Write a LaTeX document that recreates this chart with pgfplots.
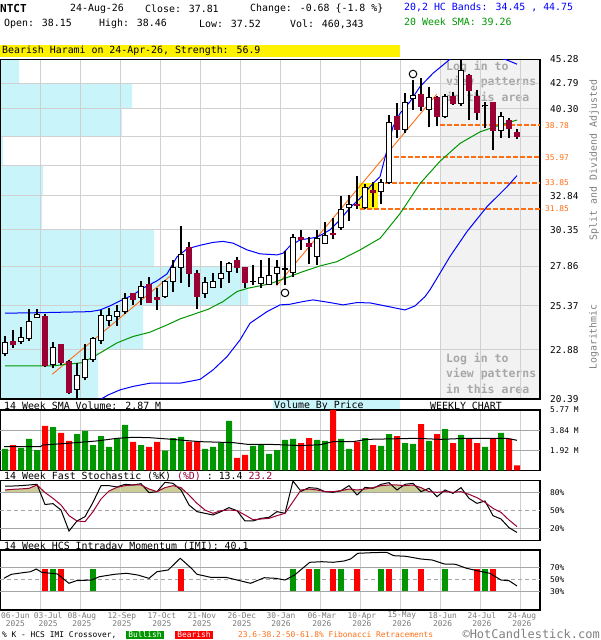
\documentclass[border=0pt]{standalone}
\usepackage{pgfplots}
\pgfplotsset{compat=1.18}
\usepackage{fontspec}
\setmainfont{DejaVu Sans Mono}
\definecolor{bear}{RGB}{153,0,51}
\definecolor{volg}{RGB}{0,150,0}
\definecolor{volr}{RGB}{255,0,0}
\definecolor{bandc}{RGB}{0,0,255}
\definecolor{smac}{RGB}{0,150,0}
\definecolor{fibc}{RGB}{255,110,20}
\definecolor{vbp}{RGB}{200,244,250}
\definecolor{shade}{RGB}{242,242,242}
\definecolor{gridc}{RGB}{208,208,208}
\definecolor{gridd}{RGB}{165,165,165}
\definecolor{khaki}{RGB}{204,204,153}
\definecolor{logtxt}{RGB}{168,168,168}
\definecolor{datec}{RGB}{120,120,120}
\newcommand\hf{\fontsize{9.9}{11}\selectfont}
\newcommand\ylab{\fontsize{9.4}{10}\selectfont}
\newcommand\smallf{\fontsize{7.9}{8.5}\selectfont}
\newcommand\logf{\fontsize{11.5}{13}\selectfont\bfseries}
\newcommand\cdl[5]{%
  \pgfmathsetmacro\xa{#1-0.33}\pgfmathsetmacro\xb{#1+0.33}%
  \ifdim #5pt<#2pt \def\bfill{bear}\def\bdraw{bear}\else\def\bfill{white}\def\bdraw{black}\fi
  \edef\next{\noexpand\addplot[black,line width=1.2pt,forget plot] coordinates {(#1,#4) (#1,#3)};%
  \noexpand\addplot[fill=\bfill,draw=\bdraw,line width=1pt,forget plot] coordinates {(\xa,#2) (\xb,#2) (\xb,#5) (\xa,#5) (\xa,#2)};}%
  \next}
\newcommand\imibar[2]{\addplot[#2,line width=6pt,forget plot] coordinates {(#1,32) (#1,68)};}
\newcommand\hgl[2]{\addplot[gridd,line width=1pt,#2,forget plot] coordinates {(-0.625,#1) (66.875,#1)};}
\newcommand\fibl[2]{\addplot[fibc,line width=1.5pt,dash pattern=on 4.5pt off 2.5pt,forget plot] coordinates {(#1,#2) (66.875,#2)};}
\pgfplotsset{
  panel/.style={scale only axis, width=540pt, xmin=-0.625, xmax=66.875,
    axis line style={line width=1.2pt}, major tick length=0pt,
    xtick={4.4,9.4,...,64.4}, xticklabels={}, xmajorgrids, x grid style={gridc,line width=1pt},
    yticklabel pos=right, yticklabel style={anchor=west,inner sep=0pt,xshift=10pt,font=\smallf},
    clip=true},
}
\begin{document}
\begin{tikzpicture}
\useasboundingbox (0pt,0pt) rectangle (600pt,640pt);
\begin{scope}[x=1pt,y=1pt]
\node[anchor=west,inner sep=0,font=\fontsize{11}{12}\selectfont\bfseries] at (0,631) {NTCT};
\node[anchor=west,inner sep=0,font=\hf] at (70,631) {24-Aug-26};
\node[anchor=west,inner sep=0,font=\hf] at (145,631) {Close: 37.81};
\node[anchor=west,inner sep=0,font=\hf] at (250,631) {Change: -0.68 \{-1.8 \%\}};
\node[anchor=west,inner sep=0,font=\hf] at (4,616) {Open: 38.15};
\node[anchor=west,inner sep=0,font=\hf] at (99,616) {High: 38.46};
\node[anchor=west,inner sep=0,font=\hf] at (199,616) {Low: 37.52};
\node[anchor=west,inner sep=0,font=\hf] at (290,616) {Vol: 460,343};
\node[anchor=west,inner sep=0,font=\hf,text=bandc] at (404,633) {20,2 HC Bands: 34.45 , 44.75};
\node[anchor=west,inner sep=0,font=\hf,text=smac] at (404,618) {20 Week SMA: 39.26};
\fill[yellow] (0,583) rectangle (400,595);
\node[anchor=west,inner sep=0,font=\hf] at (2,589) {Bearish Harami on 24-Apr-26, Strength: 56.9};
\end{scope}
% ---------- background of price panel ----------
\begin{axis}[at={(0pt,241pt)}, anchor=south west, scale only axis, width=540pt, height=339.8pt,
  xmin=0, xmax=540, ymin=20.39, ymax=45.28, ymode=log, hide axis]
\addplot[fill=vbp, draw=none] coordinates {
(0,20.39) (98,20.39) (98,22.88) (143,22.88) (143,25.37) (248,25.37) (248,27.86) (154,27.86)
(154,30.35) (42,30.35) (42,32.84) (43,32.84) (43,35.32) (3,35.32) (3,37.81) (122,37.81)
(122,40.30) (132,40.30) (132,42.79) (19,42.79) (19,45.28) (0,45.28)};
\addplot[fill=shade, draw=none] coordinates {(440,20.39) (540,20.39) (540,45.28) (440,45.28)};
\addplot[draw=gray, line width=1pt] coordinates {(440,20.39) (440,45.28)};
\end{axis}
\begin{scope}[x=1pt,y=1pt]
\foreach \yy/\tt in {573/{Log in to},558/{view patterns},543/{in this area},281/{Log in to},266/{view patterns},251/{in this area}}
  \node[anchor=west,inner sep=0,font=\logf,text=logtxt] at (446,\yy) {\tt};
\end{scope}
% ---------- price panel ----------
\begin{axis}[panel, at={(0pt,241pt)}, anchor=south west, height=339.8pt,
  ymode=log, ymin=20.39, ymax=45.28, ymajorgrids, y grid style={gridc,line width=1pt},
  ytick={20.39,22.88,25.37,27.86,30.35,32.84,35.32,37.81,40.30,42.79,45.28},
  yticklabels={20.39,22.88,25.37,27.86,30.35,32.84,,,40.30,42.79,45.28},
  yticklabel style={font=\ylab},
  extra y ticks={31.85,33.85,35.97,38.78},
  extra y tick labels={31.85,33.85,35.97,38.78},
  extra y tick style={grid=none, yticklabel style={text=fibc,font=\smallf,xshift=-5pt}}]
\addplot[fill=yellow, draw=none, forget plot] coordinates {(44.25,31.82) (46.6,31.82) (46.6,33.87) (44.25,33.87)};
\fibl{54.4}{38.78}\fibl{47.75}{35.97}\fibl{47.5}{33.85}\fibl{44.4}{31.85}
\addplot[fibc, line width=0.9pt] coordinates {(5.91,21.61) (20.96,27.34)};
\addplot[fibc, line width=0.9pt] coordinates {(33.96,26.61) (53.96,41.70)};
\addplot[smac, line width=1pt] coordinates {
(0,22.04) (6,22.04) (9.75,22.21) (11.9,22.72) (14,23.26) (16,23.61) (18.1,23.85) (20.25,24.26)
(21.9,24.61) (25.4,25.17) (27.25,25.63) (29,26.24) (30.4,26.45) (33.1,26.72) (34.75,27.02)
(37.25,27.50) (39.4,27.87) (41.5,28.15) (44.4,28.94) (46.9,29.74) (49.4,31.53) (51.9,33.83)
(54.4,35.65) (56.9,37.17) (59.4,38.19) (61.9,38.80) (64,39.26)};
\addplot[bandc, line width=1pt] coordinates {
(0,24.94) (4.375,24.97) (10.625,25.03) (11.875,25.13) (13.125,25.37) (14.375,25.67) (16,26.03)
(17.25,26.45) (19,26.91) (20.25,27.35) (21.5,28.47) (22.75,29.01) (24.375,29.25) (26,29.45)
(27.25,29.52) (28.5,29.40) (30.25,28.94) (31.875,28.67) (34,28.60) (34.75,28.71) (35.625,29.21)
(36.875,29.62) (39,29.81) (40.625,30.33) (41.875,31.05) (43.125,31.95) (44.375,32.66) (46,33.83)
(46.875,34.36) (47.75,36.59) (48.5,38.64) (49.375,39.87) (50.625,40.98) (51.875,42.45) (53.5,43.81)
(55.25,45.01) (56.5,45.91) (58.125,46.16) (60.25,45.84) (62.75,45.19) (64,44.75)};
\addplot[bandc, line width=1pt] coordinates {
(11.4,20.25) (12.875,20.58) (14.375,20.83) (16,21.00) (18.125,21.16) (21.875,21.16) (24.375,21.35)
(26,21.83) (27.75,22.52) (29.375,23.42) (30.625,24.36) (32.75,25.03) (34.375,25.43) (35.625,25.47)
(37.25,25.63) (38.5,25.73) (40.625,25.57) (42.25,25.43) (44,25.57) (45.625,25.55) (48.125,25.31)
(50,25.13) (51.25,25.37) (52.5,25.93) (53.125,26.35) (55.625,28.49) (57.75,30.21) (60.25,32.03)
(62.75,33.56) (64,34.45)};
\cdl{0}{22.70}{23.64}{22.58}{23.30}
\cdl{1}{23.31}{23.98}{23.00}{23.17}
\cdl{2}{23.33}{24.17}{23.22}{23.57}
\cdl{3}{23.50}{25.17}{23.38}{24.47}
\cdl{4}{24.71}{25.17}{24.65}{24.84}
\cdl{5}{24.72}{24.92}{21.97}{22.07}
\cdl{6}{22.12}{23.30}{21.92}{23.03}
\cdl{7}{23.15}{23.19}{22.09}{22.21}
\cdl{8}{22.24}{22.33}{20.65}{20.69}
\cdl{9}{20.86}{22.19}{20.39}{21.56}
\cdl{10}{21.44}{23.20}{21.32}{22.39}
\cdl{11}{22.36}{23.57}{22.26}{23.48}
\cdl{12}{23.38}{25.13}{23.22}{24.82}
\cdl{13}{24.53}{25.23}{24.22}{24.82}
\cdl{14}{24.76}{25.41}{24.21}{25.06}
\cdl{15}{25.06}{26.16}{24.92}{25.79}
\cdl{16}{26.14}{26.17}{25.43}{25.73}
\cdl{17}{25.87}{26.91}{25.43}{26.53}
\cdl{18}{26.70}{27.16}{25.55}{25.59}
\cdl{19}{25.85}{26.49}{25.13}{25.77}
\cdl{20}{25.93}{26.95}{25.87}{26.85}
\cdl{21}{26.88}{28.27}{26.22}{27.79}
\cdl{22}{27.76}{30.61}{26.80}{28.65}
\cdl{23}{29.12}{29.49}{26.51}{27.37}
\cdl{24}{27.40}{27.61}{25.21}{25.93}
\cdl{25}{26.14}{27.14}{25.83}{26.83}
\cdl{26}{26.51}{27.40}{26.43}{26.89}
\cdl{27}{27.08}{28.20}{26.45}{27.40}
\cdl{28}{27.53}{28.14}{26.76}{28.05}
\cdl{29}{28.20}{28.45}{27.44}{27.76}
\cdl{30}{27.76}{27.81}{26.47}{26.80}
\cdl{31}{26.86}{27.96}{26.66}{26.88}
\cdl{32}{26.74}{28.25}{26.45}{27.14}
\cdl{33}{26.70}{28.40}{26.64}{27.27}
\cdl{34}{27.40}{28.27}{26.66}{27.76}
\cdl{35}{27.66}{28.84}{26.63}{27.70}
\cdl{36}{27.42}{30.01}{27.16}{29.76}
\cdl{37}{29.79}{30.33}{28.94}{29.62}
\cdl{38}{29.35}{29.81}{28.00}{29.16}
\cdl{39}{28.49}{30.33}{27.94}{29.74}
\cdl{40}{29.40}{30.93}{29.35}{29.93}
\cdl{41}{30.07}{31.17}{29.69}{29.97}
\cdl{42}{30.49}{32.84}{30.33}{31.83}
\cdl{43}{31.98}{32.92}{30.99}{32.18}
\cdl{44}{32.21}{34.42}{31.83}{32.10}
\cdl{45}{31.98}{33.78}{31.83}{33.52}
\cdl{46}{33.25}{33.96}{32.03}{33.15}
\cdl{47}{33.21}{34.15}{32.23}{33.88}
\cdl{48}{33.88}{39.72}{33.80}{39.07}
\cdl{49}{39.56}{40.82}{37.61}{38.41}
\cdl{50}{38.41}{41.79}{38.10}{40.92}
\cdl{51}{41.31}{43.12}{40.19}{41.56}
\cdl{52}{41.72}{43.30}{40.09}{40.50}
\cdl{53}{40.25}{42.45}{38.59}{41.40}
\cdl{54}{41.40}{41.58}{38.75}{39.56}
\cdl{55}{39.56}{41.75}{39.41}{41.50}
\cdl{56}{41.50}{41.89}{40.66}{40.79}
\cdl{57}{40.79}{45.20}{40.59}{44.12}
\cdl{58}{43.63}{43.70}{39.23}{42.09}
\cdl{59}{41.50}{42.12}{39.25}{39.97}
\cdl{60}{40.57}{40.98}{38.50}{40.61}
\cdl{61}{40.92}{40.98}{36.56}{38.26}
\cdl{62}{38.26}{40.03}{37.66}{39.60}
\cdl{63}{39.19}{39.47}{37.61}{38.49}
\cdl{64}{38.15}{38.46}{37.52}{37.81}
\addplot[only marks, mark=o, mark size=3.8pt, mark options={line width=1pt, black}] coordinates {(35,26.16) (51,43.73)};
\end{axis}
\begin{scope}[x=1pt,y=1pt]
\node[rotate=90,inner sep=0,font=\hf,text=gray] at (594,480) {Split and Dividend Adjusted};
\node[rotate=90,inner sep=0,font=\hf,text=gray] at (594,303) {Logarithmic};
\node[anchor=west,inner sep=0,font=\hf] at (4,234.5) {14 Week SMA Volume: 2.87 M};
\fill[vbp] (273,230) rectangle (400,240);
\node[anchor=west,inner sep=0,font=\hf] at (274,234.5) {Volume By Price};
\node[anchor=west,inner sep=0,font=\hf] at (430,234.5) {WEEKLY CHART};
\node[anchor=west,inner sep=0,font=\hf] at (4,164) {14 Week Fast Stochastic (\%K) \textcolor{bear}{(\%D)} : 13.4 \textcolor{bear}{23.2}};
\node[anchor=west,inner sep=0,font=\hf] at (4,93.5) {14 Week HCS Intraday Momentum (IMI): 40.1};
\node[anchor=west,inner sep=0,font=\smallf] at (2,5) {\% K - HCS IMI Crossover,};
\fill[volg] (126,0.5) rectangle (164,9);
\node[inner sep=0,font=\smallf,text=white] at (145,5) {Bullish};
\fill[volr] (175,0.5) rectangle (213,9);
\node[inner sep=0,font=\smallf,text=white] at (194,5) {Bearish};
\node[anchor=west,inner sep=0,font=\smallf,text=fibc] at (238,5) {23.6-38.2-50-61.8\% Fibonacci Retracements};
\node[anchor=east,inner sep=0,font=\fontsize{12}{13}\selectfont,text=gray] at (600,6.5) {©HotCandlestick.com};
\end{scope}
% ---------- volume panel ----------
\begin{axis}[panel, at={(0pt,169.7pt)}, anchor=south west, height=60.3pt,
  ymin=0, ymax=5.77, ytick={1.92,3.84,5.77}, yticklabels={1.92 M,3.84 M,5.77 M}]
\hgl{1.92}{}\hgl{3.84}{}
\addplot[ybar, bar width=6pt, bar shift=0pt, fill=volg, draw=none] coordinates {
(0,2.04) (2,2.14) (3,3.00) (4,1.94) (6,4.14) (9,3.47) (10,3.76) (11,2.42) (12,3.28) (13,2.23)
(14,3.06) (15,4.34) (17,2.42) (20,1.88) (21,3.09) (22,3.19) (25,2.04) (26,2.23) (27,2.65) (28,4.72)
(31,2.33) (32,2.49) (33,1.56) (34,1.94) (35,2.90) (36,3.00) (39,2.90) (40,2.81) (42,3.00) (43,2.04)
(45,3.09) (47,2.33) (48,3.47) (50,2.61) (51,2.52) (53,2.81) (55,3.95) (57,3.38) (60,2.23) (62,3.57)};
\addplot[ybar, bar width=6pt, bar shift=0pt, fill=volr, draw=none] coordinates {
(1,2.42) (5,4.24) (7,3.57) (8,2.81) (16,2.71) (18,2.23) (19,2.71) (23,2.74) (24,2.74) (29,1.18)
(30,1.47) (37,2.61) (38,3.09) (41,5.77) (44,2.74) (46,2.42) (49,3.28) (52,4.43) (54,3.47) (56,2.61)
(58,3.09) (59,2.61) (61,3.09) (63,3.03) (64,0.46)};
\addplot[black, line width=1pt] coordinates {
(-0.1,2.26) (4.4,2.26) (4.75,2.42) (7.75,2.58) (11.5,2.81) (14,3.06) (16,3.16) (18.1,3.12) (20.25,3.00)
(22.75,2.84) (24.4,2.74) (28.5,2.65) (30.25,2.49) (32.75,2.49) (35.25,2.42) (36.9,2.36) (39.4,2.45)
(41,2.74) (43.5,2.74) (45.25,2.96) (47.75,3.00) (51.5,3.06) (54.4,2.96) (57.75,3.06) (60.25,3.06)
(62.75,3.06) (64,2.87)};
\end{axis}
% ---------- stochastic: khaki fill above 80 (own axis spanning 80..100) ----------
\begin{axis}[at={(0pt,147.5pt)}, anchor=south west, scale only axis, width=540pt, height=12pt,
  xmin=-0.625, xmax=66.875, ymin=80, ymax=100, hide axis, clip=true]
\addplot[fill=khaki, draw=none] coordinates {
(0,84.2) (1,85.3) (2,86.0) (3,86.9) (4,92.5) (5,80.0) (6,70.3) (7,59.2) (8,41.4) (9,32.5) (10,31.4)
(11,48.1) (12,69.2) (13,82.5) (14,88.6) (15,91.4) (16,92.5) (17,92.5) (18,85.8) (19,81.4) (20,88.1)
(21,91.4) (22,88.1) (23,75.8) (24,61.9) (25,50.8) (26,45.3) (27,49.7) (28,50.8) (29,49.7) (30,42.5)
(31,34.7) (32,35.8) (33,36.9) (34,41.4) (35,45.3) (36,64.7) (37,84.2) (38,85.8) (39,84.2) (40,81.4)
(41,81.4) (42,83.0) (43,85.8) (44,84.2) (45,85.8) (46,88.1) (47,91.4) (48,92.5) (49,92.5) (50,91.4)
(51,92.5) (52,88.1) (53,81.4) (54,80.3) (55,81.4) (56,80.3) (57,81.4) (58,76.9) (59,71.4) (60,63.6)
(61,53.6) (62,46.9) (63,34.2) (64,23.2) (64,0) (0,0)};
\end{axis}
% ---------- stochastic panel ----------
\begin{axis}[panel, at={(0pt,99.5pt)}, anchor=south west, height=60pt,
  ymin=0, ymax=100, ytick={20,50,80}, yticklabels={20\%,50\%,80\%}]
\hgl{20}{}\hgl{80}{}\hgl{50}{dash pattern=on 4pt off 3pt}
\addplot[black, line width=1pt] coordinates {
(0,90.8) (1,90.8) (2,91.4) (3,92.5) (4,93.6) (5,60.0) (6,61.4) (7,50.8) (8,15.8) (9,32.5) (10,39.7)
(11,63.6) (12,91.4) (13,91.4) (14,89.2) (15,93.6) (16,92.5) (17,94.7) (18,79.7) (19,81.4) (20,96.9)
(21,95.3) (22,84.2) (23,59.2) (24,48.1) (25,45.3) (26,42.5) (27,48.1) (28,54.7) (29,49.7) (30,32.5)
(31,32.5) (32,36.9) (33,38.6) (34,48.1) (35,45.3) (36,99.2) (37,82.0) (38,88.1) (39,87.0) (40,81.4)
(41,80.3) (42,83.0) (43,91.4) (44,75.8) (45,88.6) (46,87.0) (47,93.6) (48,96.4) (49,84.2) (50,93.6)
(51,95.3) (52,81.4) (53,87.0) (54,73.0) (55,84.2) (56,78.6) (57,88.1) (58,70.3) (59,61.9) (60,65.8)
(61,41.4) (62,35.8) (63,21.4) (64,13.4)};
\addplot[bear, line width=1pt] coordinates {
(0,84.2) (1,85.3) (2,86.0) (3,86.9) (4,92.5) (5,80.0) (6,70.3) (7,59.2) (8,41.4) (9,32.5) (10,31.4)
(11,48.1) (12,69.2) (13,82.5) (14,88.6) (15,91.4) (16,92.5) (17,92.5) (18,85.8) (19,81.4) (20,88.1)
(21,91.4) (22,88.1) (23,75.8) (24,61.9) (25,50.8) (26,45.3) (27,49.7) (28,50.8) (29,49.7) (30,42.5)
(31,34.7) (32,35.8) (33,36.9) (34,41.4) (35,45.3) (36,64.7) (37,84.2) (38,85.8) (39,84.2) (40,81.4)
(41,81.4) (42,83.0) (43,85.8) (44,84.2) (45,85.8) (46,88.1) (47,91.4) (48,92.5) (49,92.5) (50,91.4)
(51,92.5) (52,88.1) (53,81.4) (54,80.3) (55,81.4) (56,80.3) (57,81.4) (58,76.9) (59,71.4) (60,63.6)
(61,53.6) (62,46.9) (63,34.2) (64,23.2)};
\end{axis}
% ---------- IMI panel ----------
\begin{axis}[panel, at={(0pt,30pt)}, anchor=south west, height=60pt,
  ymin=0, ymax=100, ytick={30,50,70}, yticklabels={30\%,50\%,70\%},
  extra x ticks={1.3,5.4,9.6,14.6,19.6,24.6,29.6,34.5,39.6,44.6,49.6,54.7,59.6,64.6},
  extra x tick labels={{06-Jun\\2025},{03-Jul\\2025},{08-Aug\\2025},{12-Sep\\2025},{17-Oct\\2025},{21-Nov\\2025},{26-Dec\\2025},{30-Jan\\2026},{06-Mar\\2026},{10-Apr\\2026},{15-May\\2026},{18-Jun\\2026},{24-Jul\\2026},{24-Aug\\2026}},
  extra x tick style={grid=none, xticklabel style={font=\smallf, text=datec, align=center, inner sep=0pt, yshift=-2pt}}]
\hgl{30}{}\hgl{70}{}\hgl{50}{dash pattern=on 4pt off 3pt}
\imibar{5}{volr}\imibar{7}{volr}\imibar{22}{volr}\imibar{38}{volr}\imibar{41}{volr}
\imibar{44}{volr}\imibar{48}{volr}\imibar{52}{volr}\imibar{59}{volr}\imibar{61}{volr}
\imibar{6}{volg}\imibar{11}{volg}\imibar{36}{volg}\imibar{39}{volg}\imibar{42}{volg}
\imibar{47}{volg}\imibar{50}{volg}\imibar{55}{volg}\imibar{60}{volg}
\addplot[black, line width=1pt] coordinates {
(-0.15,52.8) (0.8,59.5) (2.25,62.2) (3.2,63.8) (3.9,68.3) (4.6,62.8) (6.55,60.0) (8.0,44.5) (8.9,48.8)
(10.85,50.0) (11.8,55.5) (13.7,59.5) (15.2,61.2) (16.6,58.3) (18.0,52.8) (19.0,63.8) (20.4,66.7)
(21.9,86.2) (23.3,69.5) (24.0,59.5) (25.7,54.5) (27.6,54.5) (29.0,50.0) (30.7,44.5) (32.4,53.8)
(33.8,52.8) (35.0,50.0) (36.2,58.3) (37.2,69.5) (38.1,79.5) (39.6,80.5) (41.0,79.5) (42.4,81.7)
(43.2,85.0) (44.1,94.5) (45.8,95.5) (47.7,96.2) (48.6,90.5) (50.1,89.5) (52.0,85.0) (53.4,83.3)
(54.9,76.7) (56.3,76.2) (57.7,69.5) (59.2,65.0) (60.6,61.2) (62.0,50.0) (63.0,48.8) (64.0,40.1)};
\end{axis}
\end{tikzpicture}
\end{document}
